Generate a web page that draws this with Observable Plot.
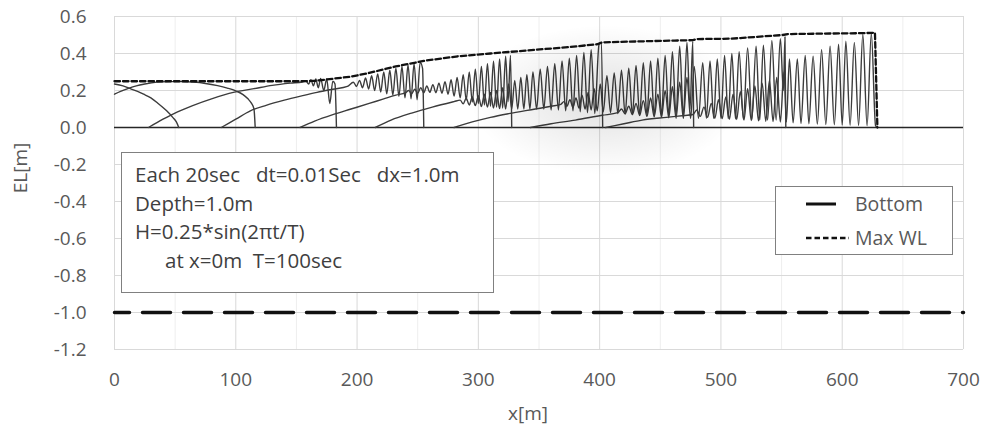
<!DOCTYPE html>
<html><head><meta charset="utf-8">
<script src="https://cdn.jsdelivr.net/npm/d3@7"></script>
<script src="https://cdn.jsdelivr.net/npm/@observablehq/plot@0.6"></script>
<style>
body{margin:0;background:#fff;}
#wrap{position:relative;width:983px;height:428px;font-family:"Open Sans",sans-serif;overflow:hidden;}
#chart{position:absolute;left:0;top:0;}
.haze{position:absolute;left:470px;top:25px;width:270px;height:150px;pointer-events:none;
  background:radial-gradient(ellipse closest-side, rgba(0,0,0,0.12), rgba(0,0,0,0));}
#ylab{position:absolute;left:20px;top:168px;transform:translate(-50%,-50%) rotate(-90deg);white-space:nowrap;font-size:19px;color:#595959;}
#xlab{position:absolute;left:528px;top:413px;transform:translate(-50%,-50%);white-space:nowrap;font-size:19px;color:#595959;}
#note{position:absolute;left:121px;top:152px;width:371px;height:139px;border:1.5px solid #808080;background:#fff;
  font-size:20.5px;color:#3f3f3f;}
#note div{position:absolute;left:13px;white-space:pre;line-height:1;}
#legend{position:absolute;left:775px;top:186px;width:176px;height:67px;border:1.5px solid #808080;background:#fff;
  font-size:19.5px;color:#595959;}
#legend .t{position:absolute;left:79px;white-space:pre;line-height:1;transform:translateY(-50%);}
#legend svg{position:absolute;left:0;top:0;}
</style></head><body>
<div id="wrap">
  <div id="chart"></div>
  <div class="haze"></div>
  <div id="ylab">EL[m]</div>
  <div id="xlab">x[m]</div>
  <div id="note">
    <div style="top:11px">Each 20sec   dt=0.01Sec   dx=1.0m</div>
    <div style="top:40px">Depth=1.0m</div>
    <div style="top:68px">H=0.25*sin(2πt/T)</div>
    <div style="top:97px;left:43px">at x=0m  T=100sec</div>
  </div>
  <div id="legend">
    <svg width="176" height="67">
      <line x1="30" x2="60" y1="17" y2="17" stroke="#111" stroke-width="3"/>
      <line x1="30" x2="73" y1="51" y2="51" stroke="#111" stroke-width="2.3" stroke-dasharray="5.5,3"/>
    </svg>
    <div class="t" style="top:17px">Bottom</div>
    <div class="t" style="top:51px">Max WL</div>
  </div>
</div>
<script>
// axis ticks
const xTicks = [0, 100, 200, 300, 400, 500, 600, 700];
const xTickLabels = ["0", "100", "200", "300", "400", "500", "600", "700"];
const xMinorTicks = [50, 150, 250, 350, 450, 550, 650];
const yTicks = [-1.2, -1.0, -0.8, -0.6, -0.4, -0.2, 0.0, 0.2, 0.4, 0.6];
const yTickLabels = ["-1.2", "-1.0", "-0.8", "-0.6", "-0.4", "-0.2", "0.0", "0.2", "0.4", "0.6"];

// bottom elevation [x, EL]
const bottom = [[0, -1.0], [700, -1.0]];

// maximum water level envelope [x, EL]
const maxWL = [[0,0.25],[50,0.25],[100,0.25],[150,0.25],[165,0.252],[182,0.265],[195,0.275],[210,0.295],[232,0.33],[255,0.36],[283,0.385],[310,0.4],[347,0.42],[375,0.435],[398,0.45],[402,0.46],[430,0.465],[462,0.47],[477,0.472],[480,0.478],[508,0.48],[551,0.5],[555,0.505],[590,0.508],[617,0.51],[627,0.512],[629,0]];

// water level snapshots every 20 sec [x, EL]
const snapshotTimes = [20, 40, 60, 80, 100, 120, 140, 160, 180];
const snap20 = [[0,0.235],[7,0.225],[13,0.21],[19,0.195],[24,0.18],[30,0.16],[36,0.13],[43,0.09],[48,0.055],[51,0.03],[53,0]];
const snap40 = [[0,0.18],[5,0.195],[11,0.21],[18,0.225],[25,0.235],[35,0.245],[45,0.248],[55,0.248],[65,0.245],[75,0.238],[85,0.226],[93,0.213],[100,0.198],[106,0.178],[110,0.155],[113,0.13],[115,0.1],[116,0]];
const snap60 = [[28,0],[40,0.045],[52,0.085],[65,0.12],[80,0.155],[98,0.19],[115,0.21],[130,0.228],[145,0.24],[155,0.246],[158,0.25],[160,0.235],[162,0.258],[164,0.225],[166,0.262],[168,0.215],[170,0.265],[172.5,0.2],[175,0.262],[177.5,0.13],[180,0.25],[181.8,0.235],[183,0]];
const snap80 = [[88,0],[100,0.045],[112,0.09],[125,0.12],[140,0.148],[155,0.172],[167,0.19],[180,0.207],[192,0.222],[197,0.245],[199.5,0.222],[202,0.255],[204.5,0.215],[207,0.268],[209.5,0.208],[212,0.28],[214.5,0.2],[217,0.29],[219.5,0.192],[222,0.3],[224.5,0.182],[227,0.31],[229.5,0.175],[232,0.32],[234.5,0.168],[237,0.33],[239.5,0.16],[242,0.338],[244.5,0.155],[247,0.345],[249.5,0.15],[252,0.352],[254,0.32],[255,0]];
const snap100 = [[153,0],[165,0.035],[180,0.07],[195,0.1],[210,0.13],[222,0.155],[232,0.175],[240,0.188],[242.5,0.2],[245,0.183],[247.5,0.207],[250,0.185],[252.5,0.215],[255,0.188],[257.5,0.225],[260,0.19],[262.5,0.232],[265,0.188],[267.5,0.24],[270,0.185],[272.5,0.248],[275,0.18],[277.5,0.258],[280,0.17],[282.5,0.27],[285,0.16],[287.5,0.285],[290,0.148],[292.5,0.3],[295,0.138],[297.5,0.315],[300,0.13],[302.5,0.33],[305,0.122],[307.5,0.345],[310,0.115],[312.5,0.358],[315,0.11],[317.5,0.37],[320,0.105],[322.5,0.385],[324.5,0.14],[326.5,0.39],[327.5,0]];
const snap120 = [[215,0],[228,0.04],[245,0.078],[262,0.11],[280,0.14],[285,0.148],[287.5,0.128],[290,0.158],[292.5,0.122],[295,0.165],[297.5,0.118],[300,0.172],[302.5,0.113],[305,0.18],[307.5,0.11],[310,0.19],[312.5,0.105],[315,0.2],[317.5,0.102],[320,0.215],[322.5,0.1],[325,0.235],[327.5,0.1],[330,0.255],[332.5,0.1],[335,0.27],[337.5,0.1],[340,0.285],[342.5,0.1],[345,0.3],[348,0.1],[351,0.315],[354,0.1],[357,0.33],[360,0.095],[363,0.345],[366,0.095],[369,0.36],[372,0.09],[375,0.375],[378,0.09],[381,0.39],[384,0.085],[387,0.405],[390,0.08],[393,0.42],[396,0.075],[399.5,0.45],[401.5,0.46],[402.5,0]];
const snap140 = [[280,0],[295,0.03],[310,0.055],[325,0.075],[347,0.1],[360,0.115],[368,0.125],[370.5,0.14],[373,0.115],[375.5,0.15],[378,0.11],[380.5,0.16],[383,0.105],[385.5,0.175],[388,0.1],[390.5,0.19],[393,0.095],[395.5,0.21],[398,0.09],[400.5,0.235],[403,0.085],[406,0.28],[409,0.08],[412,0.295],[415,0.075],[418,0.31],[421,0.072],[424,0.32],[427,0.07],[430,0.335],[433,0.068],[436,0.35],[439,0.066],[442,0.36],[445,0.065],[448,0.375],[451,0.065],[454,0.39],[457,0.065],[460,0.41],[463,0.065],[466,0.44],[469,0.06],[472,0.46],[474.5,0.1],[476.8,0.465],[477.5,0]];
const snap160 = [[343,0],[360,0.02],[380,0.04],[402,0.066],[415,0.08],[418,0.1],[421,0.075],[424,0.115],[427,0.07],[430,0.13],[433,0.065],[436,0.145],[439,0.06],[442,0.16],[445,0.058],[448,0.18],[451,0.055],[454,0.2],[457,0.053],[460,0.22],[463,0.05],[466,0.245],[469,0.05],[472,0.27],[475,0.05],[478,0.33],[481.5,0.05],[485,0.35],[488,0.05],[491,0.36],[494,0.05],[497,0.37],[500,0.05],[503,0.39],[506,0.048],[509,0.4],[512,0.046],[515,0.41],[518.5,0.044],[522,0.43],[525.5,0.042],[529,0.44],[532,0.04],[535,0.445],[538.5,0.04],[542,0.47],[545.5,0.04],[549,0.48],[551.5,0.2],[552.8,0.49],[553.5,0]];
const snap180 = [[405,0],[420,0.02],[435,0.04],[455,0.055],[470,0.065],[477,0.07],[480,0.095],[483,0.06],[486,0.11],[489,0.055],[492,0.13],[495,0.05],[498,0.15],[501,0.048],[504,0.165],[507,0.045],[510,0.18],[513,0.043],[516,0.195],[519,0.04],[522,0.21],[525,0.038],[528,0.225],[531,0.036],[534,0.24],[537,0.034],[540,0.255],[543,0.032],[546,0.27],[549,0.03],[552,0.3],[554,0.03],[556.5,0.37],[559.5,0.025],[563,0.37],[566,0.022],[569.5,0.39],[572.5,0.02],[576,0.385],[579.5,0.018],[583,0.42],[586.5,0.016],[590,0.44],[593.5,0.015],[597,0.45],[600,0.013],[603,0.467],[606.5,0.012],[610,0.46],[613.5,0.011],[617,0.505],[620.5,0.01],[624,0.51],[627.5,0.01],[629,0]];

const snapshots = [snap20, snap40, snap60, snap80, snap100, snap120, snap140, snap160, snap180];
const snapRows = snapshots.flatMap((s, i) => s.map(([x, y]) => ({t: snapshotTimes[i], x, y})));
const maxRows = maxWL.map(([x, y]) => ({x, y}));
const bottomRows = bottom.map(([x, y]) => ({x, y}));

const chart = Plot.plot({
  width: 983,
  height: 428,
  marginLeft: 114,
  marginRight: 20,
  marginTop: 16,
  marginBottom: 79,
  style: {fontFamily: "'Open Sans', sans-serif", background: "transparent"},
  x: {domain: [0, 700], label: null},
  y: {domain: [-1.2, 0.6], label: null},
  marks: [
    Plot.gridX(xMinorTicks, {stroke: "#eeeeee", strokeOpacity: 1}),
    Plot.gridX(xTicks, {stroke: "#d9d9d9", strokeOpacity: 1}),
    Plot.gridY(yTicks, {stroke: "#d9d9d9", strokeOpacity: 1}),
    Plot.ruleY([0], {stroke: "#262626", strokeWidth: 1.6}),
    Plot.line(bottomRows, {x: "x", y: "y", stroke: "#111", strokeWidth: 3.5, strokeDasharray: "28,13", strokeDashoffset: 13}),
    Plot.line(snapRows, {x: "x", y: "y", z: "t", stroke: "#3c3c3c", strokeWidth: 1.4, curve: "monotone-x"}),
    Plot.line(maxRows, {x: "x", y: "y", stroke: "#111", strokeWidth: 2.3, strokeDasharray: "5.5,3"}),
    Plot.axisX({ticks: xTicks, tickSize: 0, tickPadding: 23, fontSize: 19, color: "#595959", label: null,
      tickFormat: d => xTickLabels[xTicks.indexOf(d)]}),
    Plot.axisY({ticks: yTicks, tickSize: 0, tickPadding: 28, fontSize: 19, color: "#595959", label: null,
      tickFormat: d => yTickLabels[yTicks.indexOf(d)]})
  ]
});
document.getElementById("chart").appendChild(chart);
</script>
</body></html>
